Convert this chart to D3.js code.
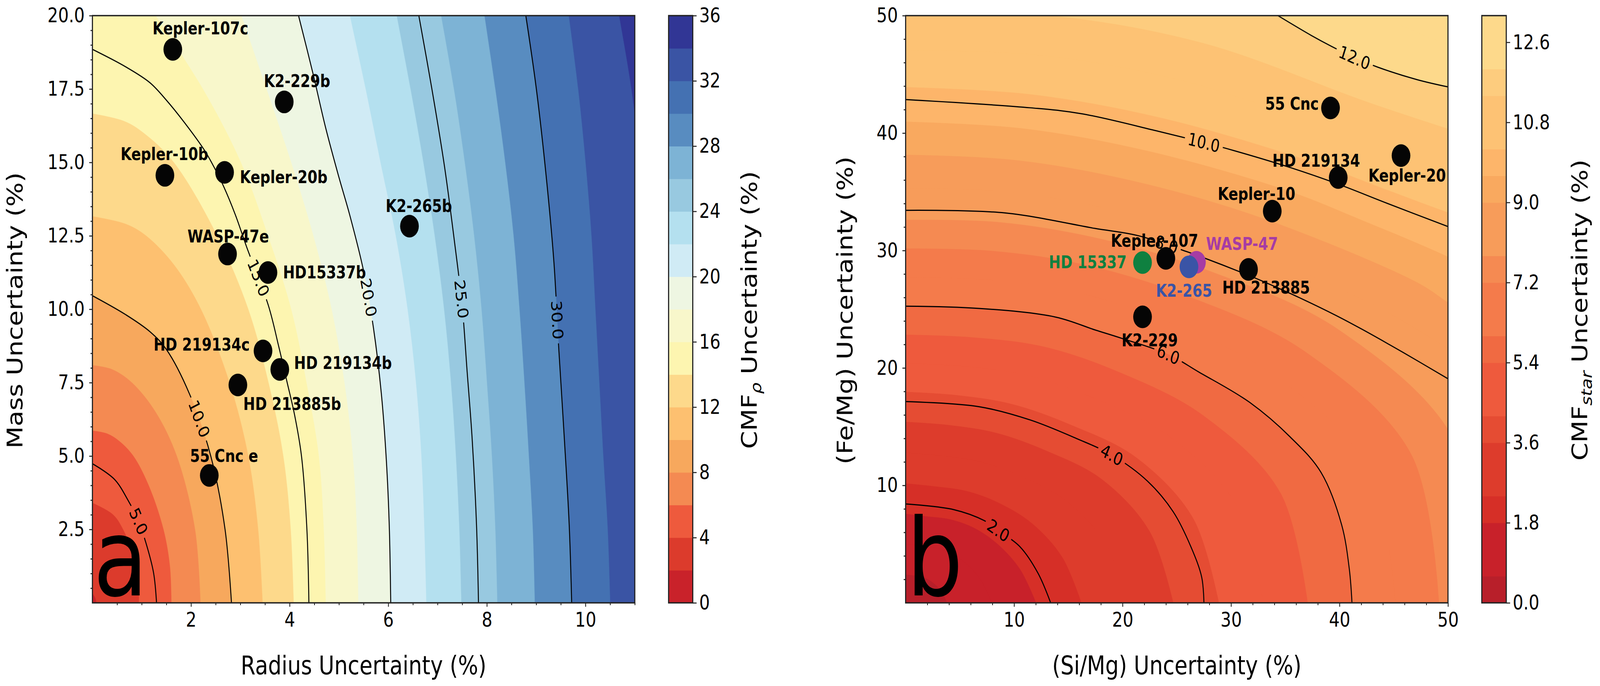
<!DOCTYPE html>
<html><head><meta charset="utf-8">
<script src="https://cdn.jsdelivr.net/npm/d3@7/dist/d3.min.js"></script>
<style>html,body{margin:0;padding:0;background:#fff;overflow:hidden;width:100%;height:100%}
#chart{display:block;width:100vw;height:100vh}</style>
</head><body>
<svg id="chart" viewBox="0 0 4968 1757" preserveAspectRatio="none" xmlns="http://www.w3.org/2000/svg"></svg>
<script>
// ================= DATA =================
// ---- Panel a : CMF_rho uncertainty vs radius / mass uncertainty ----
const bandLevelsA = [0,2,4,6,8,10,12,14,16,18,20,22,24,26,28,30,32,34,36];
const cbTicksA = [0,4,8,12,16,20,24,28,32,36];
const xTicksA = [2,4,6,8,10];
const yTicksA = [2.5,5,7.5,10,12.5,15,17.5,20];
const contourLevelsA = ["5.0","10.0","15.0","20.0","25.0","30.0"];
// contour lines: [radius %, mass %]
const lineA5  = [[1.30,0],[1.24,1.02],[1.08,2.07],[0.93,2.8],[0.72,3.5],[0.45,4.2],[0,4.74]];
const lineA10 = [[2.82,0],[2.69,2.5],[2.40,5],[1.97,7.11],[1.50,8.63],[1.17,9.23],[0.67,9.82],[0,10.46]];
const lineA15 = [[4.39,0],[4.35,2.5],[4.24,5],[4.10,6.4],[3.95,7.5],[3.78,8.72],[3.57,10.12],[3.13,12.11],[2.9,13.21],[2.67,14.15],[2.47,14.83],[2.27,15.42],[1.87,16.35],[1.5,17.12],[1.17,17.71],[0.67,18.26],[0,18.85]];
const lineA20 = [[6.05,0],[6.02,2.65],[5.96,4.89],[5.86,7.12],[5.70,9.36],[5.50,11.3],[5.22,13.2],[5.0,14.49],[4.73,16.18],[4.47,18.05],[4.18,20]];
const lineA25 = [[7.83,0],[7.79,2.65],[7.70,5.63],[7.60,7.87],[7.50,10.1],[7.34,12.34],[7.14,14.87],[6.88,17.55],[6.62,20]];
const lineA30 = [[9.72,0],[9.67,2.65],[9.57,5.63],[9.46,8.61],[9.36,11.6],[9.2,14.58],[9.0,17.55],[8.79,20]];
const contourLabelAtA = [[0.95,2.8],[2.2,6.3],[3.45,11.15],[5.59,10.4],[7.5,10.35],[9.47,9.65]];
// filled-band edges (level 2,4,...,34)
const edgeA2  = [[0.08,0],[0.05,0.18],[0,0.32]];
const edgeA4  = [[0.94,0],[0.90,1.25],[0.62,2.5],[0.42,3.0],[0,3.4]];
const edgeA6  = [[1.60,0],[1.57,1.25],[1.44,2.5],[1.14,4],[0.83,5],[0.55,5.5],[0.3,5.76],[0,5.86]];
const edgeA8  = [[2.19,0],[2.08,2.5],[1.71,5],[1.28,6.5],[0.80,7.5],[0.4,7.95],[0,8.09]];
const edgeA12 = [[3.45,0],[3.36,2.5],[3.16,5],[2.78,7.5],[2.2,10],[1.66,11.5],[1.09,12.5],[0.68,12.9],[0,13.16]];
const edgeA14 = [[4.08,0],[4.02,2.5],[3.87,5],[3.57,7.5],[3.16,10],[2.53,12.5],[1.65,15],[1.04,16],[0.65,16.4],[0,16.66]];
const edgeA16 = [[4.73,0],[4.69,2.5],[4.59,5],[4.34,7.5],[4.03,10],[3.56,12.5],[3.01,15],[2.24,17.5],[1.28,20]];
const edgeA18 = [[5.39,0],[5.36,2.5],[5.28,5],[5.11,7.5],[4.85,10],[4.48,12.5],[4.03,15],[3.53,17.5],[3.02,20]];
const edgeA22 = [[6.77,0],[6.73,2.5],[6.67,5],[6.56,7.5],[6.39,10],[6.15,12.5],[5.84,15],[5.54,17.5],[5.22,20]];
const edgeA24 = [[7.48,0],[7.44,2.5],[7.37,5],[7.27,7.5],[7.13,10],[6.94,12.5],[6.71,15],[6.45,17.5],[6.17,20]];
const edgeA26 = [[8.21,0],[8.17,2.5],[8.10,5],[8.00,7.5],[7.89,10],[7.74,12.5],[7.55,15],[7.33,17.5],[7.07,20]];
const edgeA28 = [[8.97,0],[8.93,2.5],[8.85,5],[8.76,7.5],[8.66,10],[8.54,12.5],[8.37,15],[8.17,17.5],[7.95,20]];
const edgeA32 = [[10.50,0],[10.45,2.5],[10.36,5],[10.28,7.5],[10.20,10],[10.12,12.5],[10.0,15],[9.85,17.5],[9.66,20]];
const edgeA34 = [[11.6,0],[11.5,5],[11.35,10],[11.1,15],[10.93,17.5],[10.68,20]];
// planets (panel a)
const namesA = ["Kepler-107c","K2-229b","Kepler-10b","Kepler-20b","K2-265b","WASP-47e","HD15337b","HD 219134c","HD 219134b","HD 213885b","55 Cnc e"];
const radiusUncA = [1.63,3.89,1.47,2.68,6.43,2.74,3.56,3.46,3.80,2.95,2.37];
const massUncA   = [18.85,17.06,14.56,14.66,12.83,11.88,11.25,8.58,7.95,7.42,4.34];
const labelPosA = [[2.19,19.36,"middle"],[4.15,17.56,"middle"],[1.46,15.08,"middle"],[2.99,14.30,"start"],[6.62,13.31,"middle"],[2.755,12.28,"middle"],[3.865,11.05,"start"],[2.215,8.59,"middle"],[4.09,7.97,"start"],[3.06,6.57,"start"],[2.67,4.80,"middle"]];

// ---- Panel b : CMF_star uncertainty vs (Si/Mg) / (Fe/Mg) uncertainty ----
const bandLevelsB = [0,0.6,1.2,1.8,2.4,3.0,3.6,4.2,4.8,5.4,6.0,6.6,7.2,7.8,8.4,9.0,9.6,10.2,10.8,11.4,12.0,12.6,13.2];
const cbTicksB = [0,1.8,3.6,5.4,7.2,9.0,10.8,12.6];
const xTicksB = [10,20,30,40,50];
const yTicksB = [10,20,30,40,50];
const contourLevelsB = ["2.0","4.0","6.0","8.0","10.0","12.0"];
const lineB2  = [[0,8.42],[4.43,7.94],[7.25,7.0],[8.57,6.15],[10.55,4.77],[12.2,2.53],[13.37,0]];
const lineB4  = [[0,17.14],[6.78,16.7],[11.49,15.57],[15.73,14.0],[19.0,12.6],[22.3,10.36],[24.67,7.75],[26.3,4.77],[27.3,2.16],[27.5,0]];
const lineB6  = [[41.15,0],[40.9,2.9],[40.2,6.63],[38.3,11.1],[35.5,14.08],[31.73,17.06],[27.0,19.67],[24.2,21.16],[19.93,22.52],[17.46,23.24],[13.84,24.33],[6.78,25.07],[0,25.26]];
const lineB8  = [[0,33.42],[9.13,33.2],[17.46,31.88],[21.41,31.27],[25.87,29.92],[27.46,29.39],[30.72,28.22],[32.9,27.39],[36.45,25.92],[39.74,24.44],[42.1,23.28],[45.86,21.32],[50,19.08]];
const lineB10 = [[0,42.85],[11.52,42.15],[16.2,41.65],[23.26,40.16],[27.5,39.2],[30.3,38.5],[35.0,37.2],[39.74,35.7],[44.44,34.0],[50,32.04]];
const lineB12 = [[50,43.93],[47.15,44.55],[43.5,45.62],[41.4,46.42],[39.27,47.38],[37.4,48.31],[34.32,50]];
const contourLabelAtB = [[8.57,6.15],[19.0,12.6],[24.2,21.16],[24.1,30.6],[27.5,39.2],[41.4,46.5]];
const edgeB06  = [[3.80,0],[3.34,0.90],[2.70,1.56],[2.01,2.01],[1.30,2.24],[0.62,2.33],[0,2.39]];
const edgeB12  = [[7.95,0],[6.98,1.87],[5.66,3.27],[4.20,4.20],[2.71,4.69],[1.30,4.87],[0,5.01]];
const edgeB18  = [[12.02,0],[10.56,2.83],[8.55,4.94],[6.35,6.35],[4.10,7.10],[1.97,7.35],[0,7.57]];
const edgeB24  = [[16.2,0],[14.44,3.87],[11.67,6.74],[8.53,8.53],[5.51,9.53],[2.66,9.91],[0,10.16]];
const edgeB30  = [[20.44,0],[18.48,4.95],[14.90,8.61],[10.74,10.74],[6.93,12.0],[3.35,12.52],[0,12.78]];
const edgeB36  = [[24.67,0],[22.52,6.03],[18.14,10.48],[12.95,12.95],[8.35,14.46],[4.05,15.12],[0,15.40]];
const edgeB42  = [[28.87,0],[26.55,7.11],[21.33,12.32],[15.17,15.17],[9.77,16.92],[4.73,17.67],[0,17.95]];
const edgeB48  = [[32.96,0],[30.57,8.19],[24.42,14.10],[17.41,17.41],[11.19,19.37],[5.40,20.14],[0,20.39]];
const edgeB54  = [[37.06,0],[34.60,9.27],[27.52,15.89],[19.65,19.65],[12.61,21.83],[6.06,22.60],[0,22.82]];
const edgeB66  = [[45.16,0],[42.65,11.43],[33.78,19.5],[23.99,23.99],[15.32,26.53],[7.37,27.52],[0,27.71]];
const edgeB72  = [[49.16,0],[46.68,12.51],[36.93,21.32],[26.08,26.08],[16.61,28.76],[8.03,29.95],[0,30.16]];
const edgeB78  = [[53.17,0],[50.72,13.59],[40.09,23.15],[28.19,28.19],[17.90,31.0],[8.68,32.40],[0,32.60]];
const edgeB84  = [[53,20.05],[50,21.67],[43.56,25.15],[30.44,30.44],[19.30,33.43],[9.38,35.0],[0,35.31]];
const edgeB90  = [[53,23.76],[50,25.56],[47.2,27.25],[32.78,32.78],[20.76,35.96],[10.10,37.69],[0,38.14]];
const edgeB96  = [[53,28.0],[50,29.45],[42,32.6],[35.12,35.12],[22.22,38.49],[10.82,40.38],[0,40.96]];
const edgeB102 = [[53,32.3],[50,33.23],[44.44,35.13],[37.52,37.52],[23.81,41.23],[11.60,43.28],[0,43.90]];
const edgeB108 = [[53,35.9],[50,36.8],[40.07,40.07],[25.66,44.43],[12.49,46.62],[0,47.05]];
const edgeB114 = [[53,39.5],[50,40.36],[42.62,42.62],[27.5,47.63],[13.39,49.98],[0,50.2]];
const edgeB126 = [[53,46.7],[50,47.55],[47.6,48.4],[45.6,49.2],[43.7,50],[42,50.7]];
// stars (panel b)
const namesB = ["55 Cnc","Kepler-20","HD 219134","Kepler-10","Kepler-107","HD 213885","HD 15337","K2-229","WASP-47","K2-265"];
const siMgUncB = [39.17,45.67,39.88,33.80,23.99,31.61,21.84,21.84,26.81,26.12];
const feMgUncB = [42.14,38.08,36.21,33.35,29.33,28.39,28.97,24.35,29.00,28.61];
const labelPosB = [[38.09,41.99,"end"],[46.23,35.88,"middle"],[37.85,37.15,"middle"],[32.35,34.31,"middle"],[22.95,30.33,"middle"],[29.19,26.34,"start"],[20.38,28.5,"end"],[22.5,21.83,"middle"],[27.7,30.05,"start"],[25.67,26.06,"middle"]];

// ================= STYLE =================
const bandColorsA = ["#c9222a","#dc3b2c","#ee5a3d","#f48a52","#f7a85d","#fdc070","#fdd98b","#fdf5b0","#f8f7cb","#eef6e2","#d0ebf5","#b4e0ef","#98c9e0","#7db3d5","#588cc0","#4471b2","#3a54a4","#313695"];
const bandColorsB = ["#b81f2a","#c8212a","#c8212a","#d62f27","#dd3c2c","#dd3c2c","#e54c33","#ee5a3d","#ee5a3d","#f06a42","#f47b4b","#f47b4b","#f58a52","#f79c5a","#f79c5a","#f9a95f","#fdb56a","#fdc274","#fdc274","#fdcc7e","#fdd98b","#fdd98b"];
const markerColorB = ["#050505","#050505","#050505","#050505","#050505","#050505","#0f8040","#050505","#a63ca4","#3a54a6"];
const FONT = "'DejaVu Sans', sans-serif";
const W = 4968, H = 1757;
const boxA = {left:287, right:1971, top:40, bottom:1544};
const boxB = {left:2812, right:4496, top:40, bottom:1544};

const bandEdgesA = [edgeA2,edgeA4,edgeA6,edgeA8,lineA10,edgeA12,edgeA14,edgeA16,edgeA18,lineA20,edgeA22,edgeA24,edgeA26,edgeA28,lineA30,edgeA32,edgeA34];
const bandEdgesB = [edgeB06,edgeB12,edgeB18,edgeB24,edgeB30,edgeB36,edgeB42,edgeB48,edgeB54,lineB6,edgeB66,edgeB72,edgeB78,edgeB84,edgeB90,edgeB96,edgeB102,edgeB108,edgeB114,lineB12,edgeB126];

const svg = d3.select('#chart').attr('font-family', FONT);
const defs = svg.append('defs');

function drawPanel(cfg) {
  const {id, box, x, y, edges, colors, lines, labels, labelAt} = cfg;
  defs.append('clipPath').attr('id','clip'+id).append('rect')
    .attr('x',box.left).attr('y',box.top).attr('width',box.right-box.left).attr('height',box.bottom-box.top);
  const g = svg.append('g').attr('clip-path',`url(#clip${id})`);
  const curve = d3.line().x(d=>x(d[0])).y(d=>y(d[1])).curve(d3.curveCatmullRom.alpha(0.5));
  g.append('rect').attr('x',box.left).attr('y',box.top).attr('width',box.right-box.left).attr('height',box.bottom-box.top)
    .attr('fill',colors[colors.length-1]);
  for (let i = edges.length-1; i >= 0; i--) {
    const pts = edges[i], s = pts[0], e = pts[pts.length-1];
    let d = `M${x(0)},${y(0)}L${x(s[0])},${y(0)}` + curve(pts).replace(/^M/,'L');
    if (e[0] > 0) d += `L${x(0)},${y(e[1])}`;
    d += 'Z';
    g.append('path').attr('d',d).attr('fill',colors[i]).attr('stroke',colors[i]).attr('stroke-width',0.6);
  }
  const mask = defs.append('mask').attr('id','mask'+id).attr('maskUnits','userSpaceOnUse')
    .attr('x',0).attr('y',0).attr('width',W).attr('height',H);
  mask.append('rect').attr('x',0).attr('y',0).attr('width',W).attr('height',H).attr('fill','white');
  const gl = g.append('g').attr('mask',`url(#mask${id})`);
  const gt = g.append('g');
  lines.forEach((pts, i) => {
    const node = gl.append('path').attr('d',curve(pts)).attr('fill','none').attr('stroke','#000').attr('stroke-width',3).node();
    const tx = x(labelAt[i][0]), ty = y(labelAt[i][1]);
    const L = node.getTotalLength();
    let best = 0, bd = Infinity;
    for (let s = 0; s <= L; s += 1.5) {
      const p = node.getPointAtLength(s);
      const dd = (p.x-tx)*(p.x-tx) + (p.y-ty)*(p.y-ty);
      if (dd < bd) { bd = dd; best = s; }
    }
    const p = node.getPointAtLength(best);
    const p1 = node.getPointAtLength(Math.max(0,best-20)), p2 = node.getPointAtLength(Math.min(L,best+20));
    let ang = Math.atan2(p2.y-p1.y, p2.x-p1.x)*180/Math.PI;
    if (ang > 90) ang -= 180;
    if (ang <= -90) ang += 180;
    const tr = `translate(${p.x},${p.y}) rotate(${ang})`;
    const t = gt.append('text').attr('transform',tr).attr('text-anchor','middle').attr('dy','0.36em')
      .attr('font-size',45).attr('fill','#000').text(labels[i]);
    const w = t.node().getComputedTextLength();
    mask.append('rect').attr('transform',tr).attr('x',-w/2-10).attr('y',-20).attr('width',w+20).attr('height',40).attr('fill','black');
  });
  return g;
}

function styleAxis(sel) {
  sel.select('.domain').remove();
  sel.attr('font-size',52).attr('font-family',FONT);
  sel.selectAll('.tick line').attr('stroke','#222').attr('stroke-width',2.6);
  sel.selectAll('.tick text').attr('fill','#000');
}

function drawAxes(box, x, y, xMajor, xMinor, yMajor, yMinor, xFmt, yFmt) {
  svg.append('g').attr('transform',`translate(0,${box.bottom})`)
    .call(d3.axisBottom(x).tickValues(xMinor).tickFormat(()=>'').tickSize(6)).call(styleAxis);
  svg.append('g').attr('transform',`translate(0,${box.bottom})`)
    .call(d3.axisBottom(x).tickValues(xMajor).tickFormat(xFmt).tickSize(10).tickPadding(14)).call(styleAxis);
  svg.append('g').attr('transform',`translate(${box.left},0)`)
    .call(d3.axisLeft(y).tickValues(yMinor).tickFormat(()=>'').tickSize(6)).call(styleAxis);
  svg.append('g').attr('transform',`translate(${box.left},0)`)
    .call(d3.axisLeft(y).tickValues(yMajor).tickFormat(yFmt).tickSize(10).tickPadding(14)).call(styleAxis);
  svg.append('rect').attr('x',box.left).attr('y',box.top).attr('width',box.right-box.left).attr('height',box.bottom-box.top)
    .attr('fill','none').attr('stroke','#222').attr('stroke-width',3.5);
}

function drawColorbar(x0, x1, levels, colors, ticks, fmt, sub, labelX) {
  const cy = d3.scaleLinear().domain([levels[0], levels[levels.length-1]]).range([1544, 40]);
  const g = svg.append('g');
  for (let i = 0; i < colors.length; i++) {
    g.append('rect').attr('x',x0).attr('width',x1-x0)
      .attr('y',cy(levels[i+1])).attr('height',cy(levels[i])-cy(levels[i+1])+0.8).attr('fill',colors[i]);
  }
  g.append('rect').attr('x',x0).attr('y',40).attr('width',x1-x0).attr('height',1504)
    .attr('fill','none').attr('stroke','#222').attr('stroke-width',3.5);
  svg.append('g').attr('transform',`translate(${x1},0)`)
    .call(d3.axisRight(cy).tickValues(ticks).tickFormat(fmt).tickSize(12).tickPadding(8))
    .call(styleAxis);
  const t = svg.append('text').attr('transform',`translate(${labelX},794) rotate(-90)`)
    .attr('text-anchor','middle').attr('font-size',66).attr('fill','#000');
  t.append('tspan').text('CMF');
  t.append('tspan').attr('font-size',46).attr('font-style','italic').attr('dy',14).text(sub);
  t.append('tspan').attr('dy',-14).text(' Uncertainty (%)');
}

function axisLabels(box, xText, yText, yLabelX) {
  svg.append('text').attr('x',(box.left+box.right)/2).attr('y',1727).attr('text-anchor','middle')
    .attr('font-size',66).attr('fill','#000').text(xText);
  svg.append('text').attr('transform',`translate(${yLabelX},795) rotate(-90)`).attr('text-anchor','middle')
    .attr('font-size',66).attr('fill','#000').text(yText);
}

// ---------- Panel a ----------
const xA = d3.scaleLinear().domain([0,11]).range([boxA.left, boxA.right]);
const yA = d3.scaleLinear().domain([0,20]).range([boxA.bottom, boxA.top]);
const gA = drawPanel({id:'A', box:boxA, x:xA, y:yA, edges:bandEdgesA, colors:bandColorsA,
  lines:[lineA5,lineA10,lineA15,lineA20,lineA25,lineA30], labels:contourLevelsA, labelAt:contourLabelAtA});
gA.append('text').attr('x',boxA.left+3).attr('y',1525).attr('font-size',275).attr('fill','#000').text('a');
const gMa = svg.append('g');
namesA.forEach((n,i) => {
  gMa.append('circle').attr('cx',xA(radiusUncA[i])).attr('cy',yA(massUncA[i])).attr('r',29).attr('fill','#050505');
});
namesA.forEach((n,i) => {
  gMa.append('text').attr('x',xA(labelPosA[i][0])).attr('y',yA(labelPosA[i][1])).attr('text-anchor',labelPosA[i][2])
    .attr('font-size',44).attr('font-weight','bold').attr('fill','#000').text(n);
});
const minorXA = [], minorYA = [];
for (let k = 1; k <= 22; k++) if (k % 4 !== 0) minorXA.push(k*0.5);
for (let k = 1; k < 40; k++) if (k % 5 !== 0) minorYA.push(k*0.5);
drawAxes(boxA, xA, yA, xTicksA, minorXA, yTicksA, minorYA, d3.format('d'), d3.format('.1f'));
axisLabels(boxA, 'Radius Uncertainty (%)', 'Mass Uncertainty (%)', 69);
drawColorbar(2076, 2151, bandLevelsA, bandColorsA, cbTicksA, d3.format('d'), 'ρ', 2349);

// ---------- Panel b ----------
const xB = d3.scaleLinear().domain([0,50]).range([boxB.left, boxB.right]);
const yB = d3.scaleLinear().domain([0,50]).range([boxB.bottom, boxB.top]);
const gB = drawPanel({id:'B', box:boxB, x:xB, y:yB, edges:bandEdgesB, colors:bandColorsB,
  lines:[lineB2,lineB4,lineB6,lineB8,lineB10,lineB12], labels:contourLevelsB, labelAt:contourLabelAtB});
gB.append('text').attr('x',boxB.left+3).attr('y',1525).attr('font-size',275).attr('fill','#000').text('b');
const gMb = svg.append('g');
namesB.forEach((n,i) => {
  gMb.append('circle').attr('cx',xB(siMgUncB[i])).attr('cy',yB(feMgUncB[i])).attr('r',29).attr('fill',markerColorB[i]);
});
namesB.forEach((n,i) => {
  gMb.append('text').attr('x',xB(labelPosB[i][0])).attr('y',yB(labelPosB[i][1])).attr('text-anchor',labelPosB[i][2])
    .attr('font-size',44).attr('font-weight','bold').attr('fill',markerColorB[i] === '#050505' ? '#000' : markerColorB[i]).text(n);
});
const minorXB = [], minorYB = [];
for (let k = 1; k < 25; k++) if (k % 5 !== 0) { minorXB.push(k*2); minorYB.push(k*2); }
drawAxes(boxB, xB, yB, xTicksB, minorXB, yTicksB, minorYB, d3.format('d'), d3.format('d'));
axisLabels(boxB, '(Si/Mg) Uncertainty (%)', '(Fe/Mg) Uncertainty (%)', 2647);
drawColorbar(4601, 4677, bandLevelsB, bandColorsB, cbTicksB, d3.format('.1f'), 'star', 4928);
</script>
</body></html>
